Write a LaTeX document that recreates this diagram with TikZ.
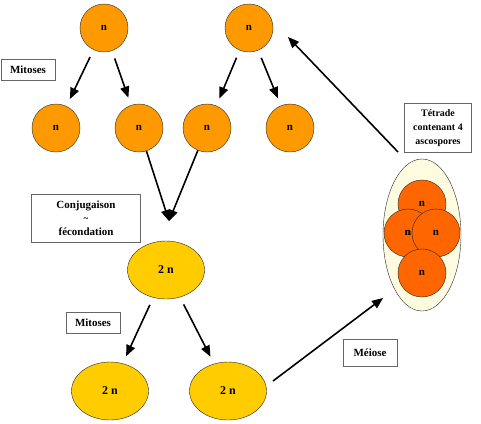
\documentclass[tikz,border=0pt]{standalone}
\usepackage{fontspec}
\setmainfont{Liberation Serif}
\usetikzlibrary{arrows,shapes.geometric}

\definecolor{haploorange}{HTML}{FF9900}
\definecolor{diployellow}{HTML}{FFCC00}
\definecolor{sporered}{HTML}{FF6600}
\definecolor{ascuscream}{HTML}{FFFBE0}

\begin{document}
\begin{tikzpicture}[x=1bp, y=-1bp, >=triangle 45,
	haplo/.style={circle, draw=black!85, fill=haploorange, minimum size=48bp, inner sep=0pt, font=\bfseries\fontsize{11}{12}\selectfont},
	diplo/.style={ellipse, draw=black!85, fill=diployellow, minimum width=77bp, minimum height=58bp, inner sep=0pt, font=\bfseries\fontsize{12}{13}\selectfont},
	spore/.style={circle, draw=black!85, fill=sporered, minimum size=48bp, inner sep=0pt, font=\bfseries\fontsize{11}{12}\selectfont},
	etiquette/.style={draw=black!60, fill=white, align=center, inner sep=2pt, font=\bfseries\fontsize{11}{12}\selectfont},
	fleche/.style={->, line width=1.6pt, shorten >=8bp, shorten <=8bp}]
	\useasboundingbox (0,0) rectangle (481,423);

	% Haploid cells {n1, ..., n6}
	\node [haplo] (n1) at (104,28)  {n};
	\node [haplo] (n2) at (249,28)  {n};
	\node [haplo] (n3) at (56,128)  {n};
	\node [haplo] (n4) at (139,128) {n};
	\node [haplo] (n5) at (207,128) {n};
	\node [haplo] (n6) at (290,128) {n};

	% Diploid cells {d0, d1, d2}
	\node [diplo] (d0) at (166,270) {2 n};
	\node [diplo] (d1) at (110,391) {2 n};
	\node [diplo] (d2) at (228,391) {2 n};

	% Ascus with the four ascospores
	\node [ellipse, draw=black!85, fill=ascuscream, minimum width=78bp, minimum height=152bp] (ascus) at (422,235) {};
	\node [spore] (s1) at (422,204) {n};
	\node [spore] (s2) at (408,233) {n};
	\node [spore] (s3) at (436,233) {n};
	\node [spore] (s4) at (422,273) {n};
	\node [font=\bfseries\fontsize{11}{12}\selectfont] at (s2.center) {n};

	% Labels
	\node [etiquette, minimum width=54bp, minimum height=21bp] (mit1) at (28,70)   {Mitoses};
	\node [etiquette, minimum width=109bp, minimum height=48bp, inner sep=1pt] (conj) at (86,218)
		{Conjugaison\\[1pt]{\small\textasciitilde}\\[2pt]fécondation};
	\node [etiquette, minimum width=54bp, minimum height=21bp] (mit2) at (93,323)  {Mitoses};
	\node [etiquette, minimum width=54bp, minimum height=27bp] (meio) at (370,353) {Méiose};
	\node [etiquette, minimum width=67bp, minimum height=49bp, font=\bfseries\fontsize{10}{14}\selectfont] (tetr) at (438,128)
		{Tétrade\\contenant 4\\ascospores};

	% Free ends
	\coordinate (meet)    at (169,221);
	\coordinate (meioA)   at (273,381);
	\coordinate (meioB)   at (383,298);
	\coordinate (retourA) at (398,152);
	\coordinate (retourB) at (288,37);

	% First mitoses
	\draw [fleche] (n1) -- (n3);
	\draw [fleche] (n1) -- (n4);
	\draw [fleche] (n2) -- (n5);
	\draw [fleche] (n2) -- (n6);

	% Conjugation
	\draw [->, line width=1.6pt] (n4) -- (meet);
	\draw [->, line width=1.6pt] (n5) -- (meet);

	% Second mitoses
	\draw [fleche] (d0) -- (d1);
	\draw [fleche] (d0) -- (d2);

	% Meiosis and back
	\draw [->, line width=1.6pt] (meioA) -- (meioB);
	\draw [->, line width=1.6pt] (retourA) -- (retourB);
\end{tikzpicture}
\end{document}
